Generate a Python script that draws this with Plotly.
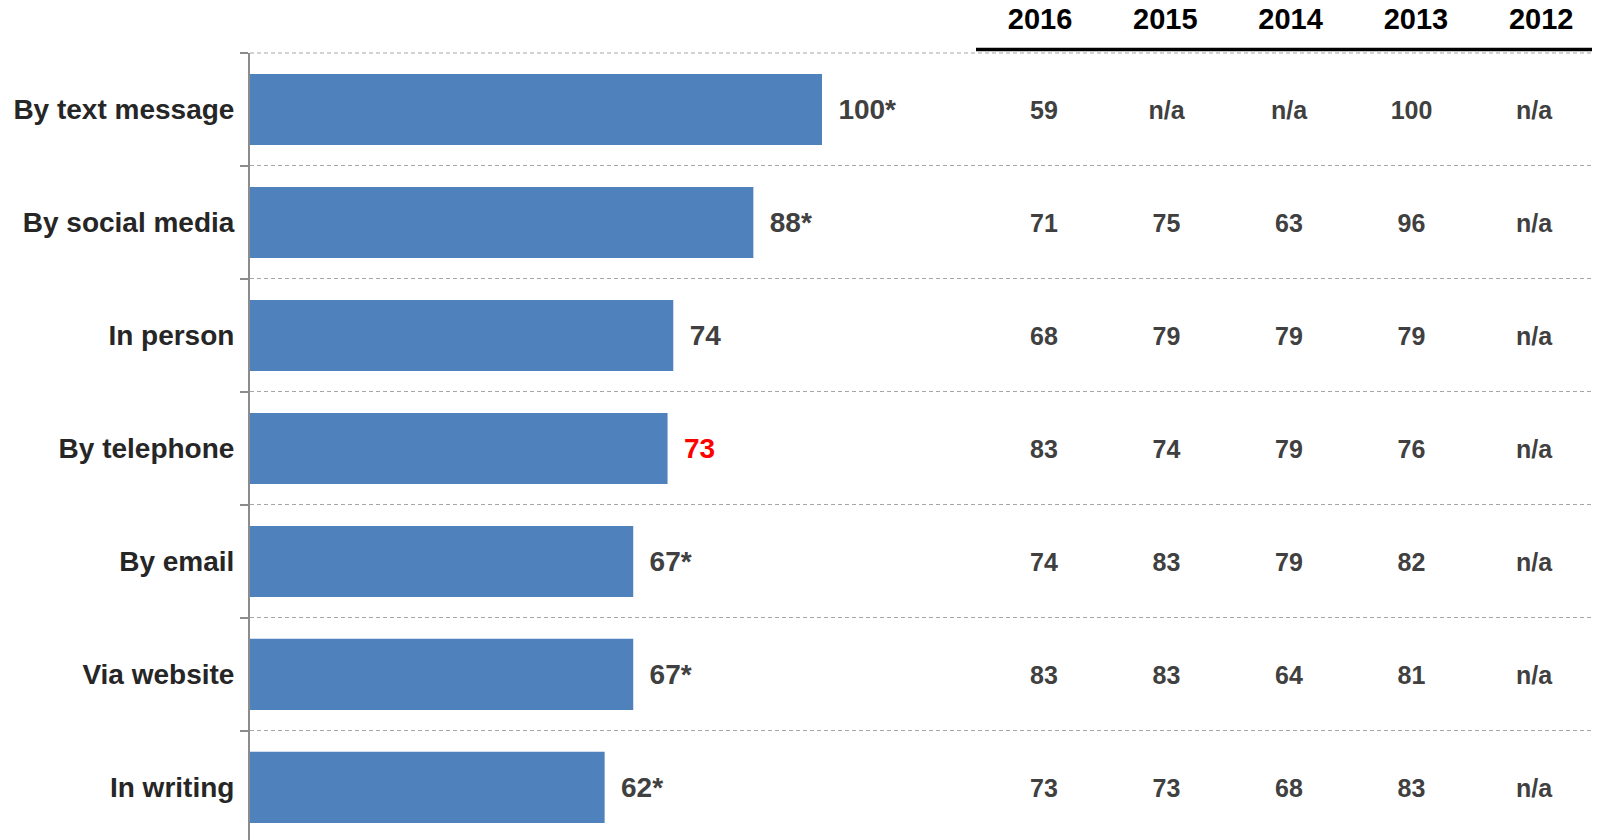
import plotly.graph_objects as go

categories = ["By text message", "By social media", "In person", "By telephone",
              "By email", "Via website", "In writing"]
values_2017 = [100, 88, 74, 73, 67, 67, 62]
bar_labels = ["100*", "88*", "74", "73", "67*", "67*", "62*"]
label_colors = ["#404040", "#404040", "#404040", "#FF0000", "#404040", "#404040", "#404040"]

years = ["2016", "2015", "2014", "2013", "2012"]
table = {
    "2016": ["59", "71", "68", "83", "74", "83", "73"],
    "2015": ["n/a", "75", "79", "74", "83", "83", "73"],
    "2014": ["n/a", "63", "79", "79", "79", "64", "68"],
    "2013": ["100", "96", "79", "76", "82", "81", "83"],
    "2012": ["n/a", "n/a", "n/a", "n/a", "n/a", "n/a", "n/a"],
}

FONT = "Arial, Liberation Sans, sans-serif"
GAP = "\u00a0\u2009"

fig = go.Figure()

fig.add_trace(go.Bar(
    x=values_2017, y=categories, orientation="h",
    marker=dict(color="#4F81BD", line=dict(width=0)),
    width=0.63,
    text=[GAP + t for t in bar_labels],
    textposition="outside",
    constraintext="none",
    cliponaxis=False,
    textfont=dict(family=FONT, size=28, color=label_colors, weight="bold"),
    hoverinfo="skip",
    showlegend=False,
))

for yr in years:
    fig.add_trace(go.Scatter(
        x=[yr] * len(categories), y=categories, xaxis="x2", yaxis="y2",
        mode="text", text=table[yr],
        textposition="middle center",
        textfont=dict(family=FONT, size=25, color="#404040", weight="bold"),
        hoverinfo="skip", showlegend=False, cliponaxis=False,
    ))

# invisible carrier so the header axis (x3) renders its tick labels
fig.add_trace(go.Scatter(
    x=years, y=[categories[0]] * len(years), xaxis="x3", yaxis="y",
    mode="markers", marker=dict(opacity=0), hoverinfo="skip", showlegend=False,
))

plot_w = 1343.0
plot_h = 787.0
px_per_unit = 5.72
y_top, y_bot = -0.5, 6.465
y_shift = 3.0 / 113.0

val_spacing, val_offset = 122.5, 794.0
hdr_spacing, hdr_offset = 125.3, 790.0

fig.update_layout(
    width=1600, height=840,
    margin=dict(l=242, r=15, t=45, b=8, autoexpand=False),
    paper_bgcolor="white", plot_bgcolor="white",
    bargap=0.37,
    xaxis=dict(range=[0, plot_w / px_per_unit], visible=False, fixedrange=True,
               automargin=False),
    xaxis2=dict(
        type="category", categoryorder="array", categoryarray=years,
        overlaying="x", anchor="y", visible=False,
        range=[-val_offset / val_spacing, -val_offset / val_spacing + plot_w / val_spacing],
    ),
    xaxis3=dict(
        type="category", categoryorder="array", categoryarray=years,
        overlaying="x", side="top", anchor="y",
        range=[-hdr_offset / hdr_spacing, -hdr_offset / hdr_spacing + plot_w / hdr_spacing],
        showgrid=False, showline=False, zeroline=False, ticks="",
        tickfont=dict(family=FONT, size=29, color="#000000", weight="bold"),
        ticklabelstandoff=17, automargin=False,
    ),
    yaxis=dict(
        type="category", categoryorder="array", categoryarray=categories,
        range=[y_bot, y_top],
        showline=True, linecolor="#8C8C8C", linewidth=2,
        ticks="outside", tickson="boundaries", ticklen=8, tickwidth=2, tickcolor="#8C8C8C",
        showgrid=True, gridcolor="#A6A6A6", gridwidth=1, griddash="4px,3px",
        tickfont=dict(family=FONT, size=28, color="#262626", weight="bold"),
        ticklabelstandoff=8, automargin=False,
        zeroline=False,
    ),
    yaxis2=dict(
        type="category", categoryorder="array", categoryarray=categories,
        overlaying="y", visible=False,
        range=[y_bot - y_shift, y_top - y_shift],
    ),
    shapes=[
        dict(type="line", xref="paper", yref="paper", x0=0, x1=1, y0=1, y1=1,
             line=dict(color="#A6A6A6", width=1, dash="4px,3px"), layer="below"),
        dict(type="line", xref="paper", yref="paper",
             x0=(976 - 250) / plot_w, x1=(1600 - 250) / plot_w,
             y0=1 + 3.5 / plot_h, y1=1 + 3.5 / plot_h,
             line=dict(color="#000000", width=3.5)),
    ],
)

fig.write_html("out.html")
